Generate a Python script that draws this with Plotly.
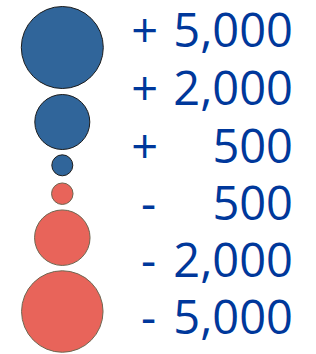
import plotly.graph_objects as go

# Data
values = [5000, 2000, 500, -500, -2000, -5000]
signs = ["+", "+", "+", "-", "-", "-"]
numbers = ["5,000", "2,000", "500", "500", "2,000", "5,000"]

# Layout / style (pixel space)
circle_y = [47.5, 122, 165.3, 193.7, 237.7, 311.5]
circle_d = [82, 55, 21, 21.5, 55.5, 81.5]
text_y = [32.7, 90.5, 148, 205, 262.5, 319]
colors = ["#30659a" if v > 0 else "#e8645a" for v in values]
line_colors = ["#1c1c1c" if v > 0 else "#6e6650" for v in values]
text_color = "#00389b"

fig = go.Figure()
fig.add_trace(go.Scatter(
    x=[62.3] * len(values), y=circle_y, mode="markers",
    marker=dict(size=circle_d, color=colors, opacity=1,
                line=dict(color=line_colors, width=1)),
    hoverinfo="skip", showlegend=False, cliponaxis=False,
))
fig.add_trace(go.Scatter(
    x=[293] * len(values), y=[t + 3 for t in text_y], mode="text",
    text=numbers, textposition="middle left",
    textfont=dict(family="Open Sans", size=47, color=text_color),
    hoverinfo="skip", showlegend=False, cliponaxis=False,
))
sign_x = [158 if s == "+" else 156 for s in signs]
fig.add_trace(go.Scatter(
    x=sign_x, y=[t + 3 for t in text_y], mode="text",
    text=signs, textposition="middle left",
    textfont=dict(family="Open Sans", size=47, color=text_color),
    hoverinfo="skip", showlegend=False, cliponaxis=False,
))

fig.update_layout(
    width=316, height=354,
    margin=dict(l=0, r=0, t=0, b=0),
    paper_bgcolor="white", plot_bgcolor="white",
    xaxis=dict(range=[0, 316], visible=False, fixedrange=True),
    yaxis=dict(range=[354, 0], visible=False, fixedrange=True),
)
fig.write_html("out.html", config={"displayModeBar": False},
               post_script="document.body.style.margin='0';document.body.style.overflow='hidden';")
